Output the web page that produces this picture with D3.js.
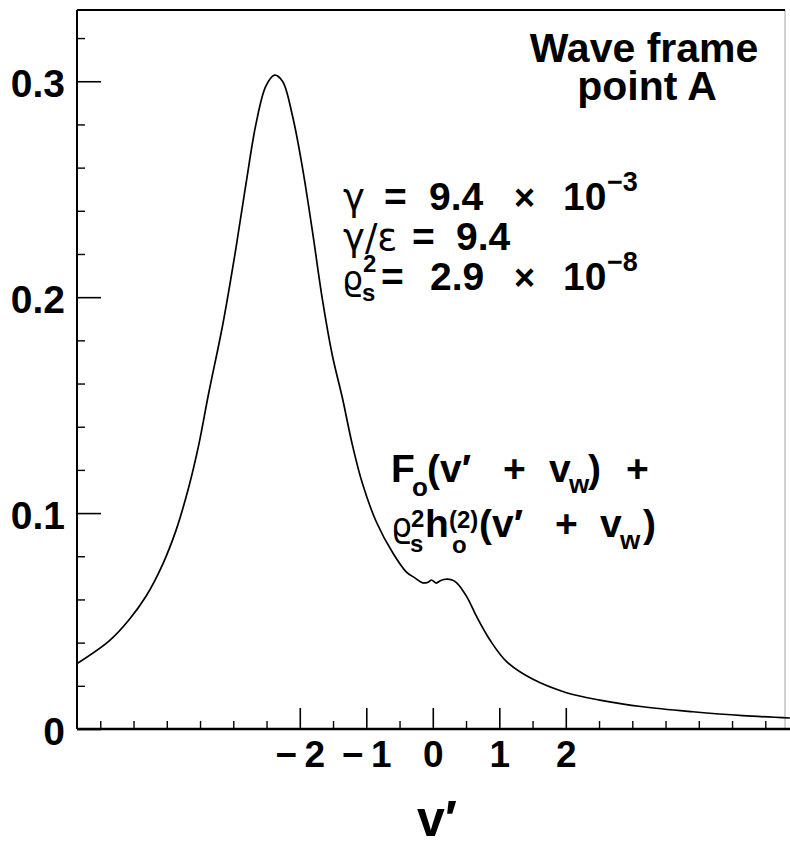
<!DOCTYPE html>
<html>
<head>
<meta charset="utf-8">
<script src="https://cdn.jsdelivr.net/npm/d3@7"></script>
<style>
  html, body { margin: 0; padding: 0; background: #fff; }
  svg { display: block; }
  text { fill: #000; }
</style>
</head>
<body>
<svg id="chart" width="790" height="846"></svg>
<script>
// Distribution in the wave frame: F_o(v' + v_w) + rho_s^2 h_o^(2)(v' + v_w)
const vPrime = [-5.36, -4.87, -4.57, -4.31, -4.06, -3.86, -3.67, -3.52, -3.37, -3.16,
  -2.96, -2.81, -2.66, -2.51, -2.38, -2.26, -2.11, -1.96, -1.81, -1.66,
  -1.51, -1.36, -1.21, -1.06, -0.85, -0.60, -0.40, -0.27, -0.15, -0.07,
  -0.02, 0.05, 0.12, 0.21, 0.29, 0.36, 0.51, 0.66, 0.86, 1.11,
  1.50, 2.01, 2.51, 3.16, 3.91, 4.66, 5.37];
const fValue = [0.0301, 0.0407, 0.0505, 0.0616, 0.0764, 0.0921, 0.112, 0.1315, 0.1555, 0.187,
  0.2227, 0.2523, 0.280, 0.2977, 0.3028, 0.300, 0.284, 0.260, 0.2306, 0.199,
  0.173, 0.1534, 0.1317, 0.1139, 0.096, 0.0815, 0.0728, 0.070, 0.0677, 0.0680,
  0.0690, 0.0676, 0.0688, 0.0694, 0.0690, 0.0677, 0.0613, 0.052, 0.0412, 0.0312,
  0.0231, 0.0168, 0.0134, 0.0103, 0.0080, 0.0062, 0.0051];

const xMajorTicks = [-2, -1, 0, 1, 2];
const xMajorLabels = ["\u2212\u20092", "\u2212\u20091", "0", "1", "2"];
const xMinorTicks = [-5, -4.5, -4, -3.5, -3, -2.5, -1.5, -0.5, 0.5, 1.5, 2.5, 3, 3.5, 4, 4.5, 5];
const yMajorTicks = [0, 0.1, 0.2, 0.3];
const yMajorLabels = ["0", "0.1", "0.2", "0.3"];
const yMinorTicks = [0.02, 0.04, 0.06, 0.08, 0.12, 0.14, 0.16, 0.18, 0.22, 0.24, 0.26, 0.28, 0.32];

const svg = d3.select("#chart");
const plotLeft = 77, plotTop = 10, plotBottom = 729, frameRight = 785;

const x = d3.scaleLinear().domain([-5.35, 5.4]).range([plotLeft, 791.9]);
const y = d3.scaleLinear().domain([0, 0.333]).range([plotBottom, plotTop]);

const boldFont = "'Liberation Sans', Arial, Helvetica, sans-serif";
const greekFont = "'DejaVu Sans', 'Liberation Sans', sans-serif";

// frame
svg.append("line").attr("x1", plotLeft).attr("x2", frameRight).attr("y1", plotTop).attr("y2", plotTop)
  .attr("stroke", "#000").attr("stroke-width", 2);
svg.append("line").attr("x1", plotLeft).attr("x2", plotLeft).attr("y1", plotTop).attr("y2", plotBottom)
  .attr("stroke", "#000").attr("stroke-width", 2);
svg.append("line").attr("x1", frameRight).attr("x2", frameRight).attr("y1", plotTop).attr("y2", plotBottom)
  .attr("stroke", "#000").attr("stroke-width", 1).attr("opacity", 0.35);

// bottom axis: long ticks with labels
const xAxis = d3.axisBottom(x).tickValues(xMajorTicks).tickSize(-21).tickSizeOuter(0)
  .tickFormat((d, i) => xMajorLabels[i]);
const gx = svg.append("g").attr("transform", `translate(0,${plotBottom})`).call(xAxis);
gx.select(".domain").attr("d", `M${plotLeft},0H790`).attr("stroke-width", 2.5);
gx.selectAll(".tick line").attr("stroke-width", 1.6);
gx.selectAll(".tick text")
  .attr("y", 38).attr("dy", 0)
  .attr("font-family", boldFont).attr("font-weight", "bold").attr("font-size", 37);

const xMinor = d3.axisBottom(x).tickValues(xMinorTicks).tickSize(-8).tickFormat("");
const gxm = svg.append("g").attr("transform", `translate(0,${plotBottom})`).call(xMinor);
gxm.select(".domain").remove();
gxm.selectAll(".tick line").attr("stroke-width", 1.4);

// left axis
const yAxis = d3.axisLeft(y).tickValues(yMajorTicks).tickSize(-24).tickSizeOuter(0)
  .tickFormat((d, i) => yMajorLabels[i]);
const gy = svg.append("g").attr("transform", `translate(${plotLeft},0)`).call(yAxis);
gy.select(".domain").remove();
gy.selectAll(".tick line").attr("stroke-width", 1.6);
gy.selectAll(".tick text")
  .attr("x", -12).attr("dy", 15)
  .attr("font-family", boldFont).attr("font-weight", "bold").attr("font-size", 39);

const yMinor = d3.axisLeft(y).tickValues(yMinorTicks).tickSize(-8).tickFormat("");
const gym = svg.append("g").attr("transform", `translate(${plotLeft},0)`).call(yMinor);
gym.select(".domain").remove();
gym.selectAll(".tick line").attr("stroke-width", 1.4);

// the curve
const pts = vPrime.map((v, i) => [v, fValue[i]]);
const line = d3.line().x(d => x(d[0])).y(d => y(d[1])).curve(d3.curveCatmullRom.alpha(0.5));
svg.append("path").datum(pts).attr("d", line)
  .attr("fill", "none").attr("stroke", "#000").attr("stroke-width", 1.7);

// axis title
svg.append("text").attr("x", 437).attr("y", 836).attr("text-anchor", "middle")
  .attr("font-family", boldFont).attr("font-weight", "bold").attr("font-size", 50)
  .text("v\u2032");

// title block
const title = svg.append("text").attr("font-family", boldFont).attr("font-weight", "bold")
  .attr("font-size", 41).attr("text-anchor", "middle");
title.append("tspan").attr("x", 644).attr("y", 62).text("Wave frame");
title.append("tspan").attr("x", 647).attr("y", 100).text("point A");

// one formula line: a single text element whose pieces are placed with tspans
// piece = [string, x, y, size, greek]
function formula(pieces) {
  const t = svg.append("text");
  pieces.forEach(([str, px, py, size, greek]) => {
    t.append("tspan").attr("x", px).attr("y", py)
      .attr("font-family", greek ? greekFont : boldFont)
      .attr("font-weight", greek ? "normal" : "bold")
      .attr("font-size", size || 39)
      .text(str);
  });
  return t;
}

// parameter block
formula([["\u03b3", 343, 210, 37, true], ["=", 384, 210], ["9.4", 429, 210],
  ["\u00d7", 514, 210, 36], ["10", 563, 210], ["\u22123", 607, 191, 27]]);
formula([["\u03b3/\u03b5", 343, 250, 37, true], ["=", 412, 250], ["9.4", 456, 250]]);
formula([["\u03f1", 342, 290, 33, true], ["2", 363, 272, 24], ["s", 362, 301, 24],
  ["=", 381, 290], ["2.9", 430, 290], ["\u00d7", 514, 290, 36],
  ["10", 563, 290], ["\u22128", 607, 271, 27]]);

// curve label
formula([["F", 391, 482], ["o", 412, 496, 26], ["(v\u2032", 427, 482], ["+", 503, 482],
  ["v", 549, 482], ["w", 569, 493, 26], [")", 588, 482], ["+", 626, 482]]);
formula([["\u03f1", 391, 537, 33, true], ["2", 411, 527, 24], ["s", 410, 552, 24],
  ["h", 425, 537], ["(2)", 449, 528, 24], ["o", 452, 553, 24],
  ["(v\u2032", 479, 537], ["+", 555, 537], ["v", 600, 537],
  ["w", 620, 549, 26], [")", 643, 537]]);
</script>
</body>
</html>
